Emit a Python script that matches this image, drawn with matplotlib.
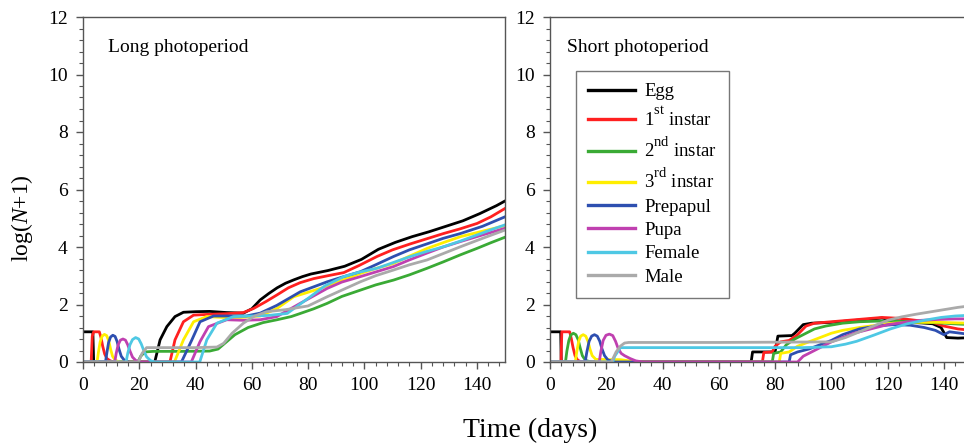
import numpy as np
import matplotlib
matplotlib.use("Agg")
import matplotlib.pyplot as plt
import matplotlib.ticker as ticker

plt.rcParams['font.family'] = ['Liberation Serif', 'DejaVu Serif']
plt.rcParams['mathtext.fontset'] = 'custom'
plt.rcParams['mathtext.rm'] = 'Liberation Serif'
plt.rcParams['mathtext.it'] = 'Liberation Serif:italic'

# bigger, higher superscripts (like the original legend)
try:
    import matplotlib._mathtext as _mt
    _mt.FontConstantsBase.sup1 = 1.2
    _mt.SHRINK_FACTOR = 0.78
except Exception:
    pass

# ---- data: (day, log(N+1)) per stage ----
labels = ['Egg', r'1$^{\mathrm{st}}$ instar', r'2$^{\mathrm{nd}}$ instar', r'3$^{\mathrm{rd}}$ instar',
          'Prepapul', 'Pupa', 'Female', 'Male']
colors = ['#000000', '#ff2020', '#3aaa35', '#ffee00', '#2e4fb0', '#c040b0', '#4ec8e4', '#aaaaaa']

# Long photoperiod
egg_long_t = [0, 3.5, 3.8, 25.5, 27.4, 29.8, 32.7, 35.7, 40, 45, 51, 57, 60, 63, 66, 69, 72, 75, 78, 81,
              87, 93, 99, 105, 111, 117, 123, 129, 135, 141, 147, 150]
egg_long_y = [1.05, 1.05, 0, 0, 0.77, 1.23, 1.58, 1.73, 1.75, 1.76, 1.72, 1.70, 1.85, 2.16, 2.38, 2.58,
              2.74, 2.86, 2.97, 3.06, 3.18, 3.33, 3.57, 3.92, 4.16, 4.36, 4.53, 4.72, 4.91, 5.16, 5.44, 5.6]
l1_long_t = [0, 2.9, 3.3, 3.8, 5.8, 6.4, 7.0, 7.7, 8.5, 9.7, 11, 30.9, 32.7, 35.7, 39.3, 45, 51, 57, 60.6,
             65, 68.9, 73, 77.2, 82, 87, 92.7, 98, 104.5, 110, 116.4, 122, 128.2, 134, 140.1, 145, 150]
l1_long_y = [0, 0, 0.9, 1.05, 1.05, 0.85, 0.55, 0.28, 0.12, 0.04, 0, 0, 0.77, 1.40, 1.63, 1.66, 1.68,
             1.72, 1.86, 2.1, 2.33, 2.58, 2.76, 2.9, 3.0, 3.11, 3.35, 3.67, 3.9, 4.11, 4.28, 4.47, 4.63,
             4.82, 5.05, 5.34]
l2_long_t = [0, 19.5, 20.5, 22, 25, 35, 45, 48, 51, 54, 58.7, 64, 69, 74, 77, 82, 86.8, 92, 98.6, 104,
             110.4, 116, 122.3, 128, 134.2, 140, 145, 150]
l2_long_y = [0, 0, 0.2, 0.35, 0.37, 0.37, 0.38, 0.45, 0.7, 0.95, 1.2, 1.37, 1.47, 1.58, 1.68, 1.85,
             2.04, 2.28, 2.5, 2.68, 2.85, 3.03, 3.26, 3.48, 3.73, 3.95, 4.15, 4.34]
l3_long_t = [0, 5, 5.5, 6.1, 6.8, 7.6, 8.4, 9.1, 9.8, 10.5, 11.5, 13, 32.5, 35.7, 39.3, 44, 50, 56, 63,
             68.9, 74.9, 84.4, 91, 98.6, 104, 110.4, 116, 122.3, 128, 134.2, 142, 150]
l3_long_y = [0, 0, 0.35, 0.7, 0.9, 0.96, 0.92, 0.75, 0.45, 0.2, 0.06, 0, 0, 0.77, 1.40, 1.58, 1.55,
             1.55, 1.6, 1.86, 2.27, 2.56, 2.8, 3.08, 3.25, 3.43, 3.68, 3.95, 4.15, 4.36, 4.55, 4.74]
pp_long_t = [0, 8, 8.5, 9.1, 9.8, 10.6, 11.4, 12.1, 12.8, 13.6, 14.7, 16.5, 35, 38.7, 41.6, 46.4, 52, 58,
             63, 68.9, 77.2, 86.8, 92, 98.6, 104, 110.4, 116, 122.3, 128, 134.2, 142, 150]
pp_long_y = [0, 0, 0.33, 0.68, 0.87, 0.93, 0.89, 0.72, 0.45, 0.2, 0.06, 0, 0, 0.77, 1.40, 1.6, 1.6,
             1.6, 1.7, 1.97, 2.44, 2.79, 2.95, 3.14, 3.38, 3.67, 3.9, 4.11, 4.3, 4.47, 4.72, 5.05]
pu_long_t = [0, 11.3, 11.8, 12.5, 13.3, 14.2, 15.1, 15.9, 16.7, 17.6, 18.8, 20.5, 38.5, 41.6, 44.6, 51.1,
             57, 63, 68.9, 77.2, 86.8, 92, 98.6, 104, 110.4, 116, 122.3, 128, 134.2, 142, 150]
pu_long_y = [0, 0, 0.3, 0.6, 0.76, 0.8, 0.76, 0.6, 0.38, 0.17, 0.05, 0, 0, 0.71, 1.23, 1.47, 1.45, 1.47,
             1.58, 2.04, 2.56, 2.78, 2.97, 3.13, 3.32, 3.55, 3.79, 4.0, 4.19, 4.42, 4.65]
fe_long_t = [0, 15.3, 15.9, 16.7, 17.6, 18.7, 19.8, 20.7, 21.6, 22.6, 24, 25.5, 41.5, 44, 47.6, 53.5, 60,
             66, 72.6, 80.8, 86, 92.7, 98, 104.5, 110, 116.4, 122, 128.2, 134, 140.1, 145, 150]
fe_long_y = [0, 0, 0.3, 0.6, 0.78, 0.85, 0.8, 0.63, 0.4, 0.18, 0.05, 0, 0, 0.77, 1.35, 1.58, 1.6, 1.62,
             1.69, 2.27, 2.65, 2.97, 3.12, 3.26, 3.45, 3.67, 3.84, 4.01, 4.2, 4.42, 4.6, 4.77]
ma_long_t = [0, 19.7, 21, 22.6, 30, 40, 47.6, 50, 53, 57, 61, 65.3, 72, 80, 86.8, 92, 98.6, 104, 110.4,
             116, 122.3, 128, 134.2, 142, 150]
ma_long_y = [0, 0, 0.3, 0.5, 0.5, 0.5, 0.52, 0.65, 1.0, 1.35, 1.6, 1.75, 1.82, 1.95, 2.27, 2.5, 2.79,
             3.0, 3.2, 3.38, 3.55, 3.77, 4.01, 4.3, 4.59]

# Short photoperiod
egg_short_t = [0, 3.8, 4.0, 71.5, 72, 80, 81, 86, 87, 90, 93, 100, 105, 110, 115, 118, 122, 127, 132,
               136, 139, 141, 145, 150]
egg_short_y = [1.05, 1.05, 0, 0, 0.35, 0.35, 0.9, 0.92, 1.0, 1.3, 1.35, 1.38, 1.42, 1.46, 1.5, 1.53,
               1.45, 1.38, 1.36, 1.33, 1.2, 0.85, 0.83, 0.85]
l1_short_t = [0, 3.9, 4.2, 7, 7.6, 8.2, 8.9, 9.8, 11, 75.5, 76, 79, 80, 82, 85, 88, 91, 94, 100, 106,
              112, 118, 124, 130, 136, 140, 145, 150]
l1_short_y = [0, 0, 1.05, 1.05, 0.8, 0.5, 0.22, 0.07, 0, 0, 0.33, 0.35, 0.55, 0.7, 0.75, 0.95, 1.25,
              1.35, 1.4, 1.45, 1.5, 1.55, 1.52, 1.45, 1.38, 1.25, 1.15, 1.1]
l2_short_t = [0, 5.5, 6.0, 6.7, 7.4, 8.3, 9.2, 10.0, 10.7, 11.5, 12.6, 14.5, 79, 79.5, 82, 84, 87, 90,
              94, 98, 104, 110, 116, 122, 128, 134, 140, 145, 150]
l2_short_y = [0, 0, 0.38, 0.75, 0.94, 1.0, 0.95, 0.78, 0.5, 0.22, 0.06, 0, 0, 0.3, 0.35, 0.6, 0.8, 0.95,
              1.15, 1.25, 1.35, 1.4, 1.42, 1.42, 1.4, 1.38, 1.35, 1.32, 1.3]
l3_short_t = [0, 9, 9.5, 10.2, 10.9, 11.8, 12.7, 13.5, 14.2, 15.0, 16.3, 25, 29, 31, 81.5, 82, 85, 88,
              92, 96, 100, 104, 110, 116, 122, 130, 138, 145, 150]
l3_short_y = [0, 0, 0.35, 0.72, 0.9, 0.95, 0.9, 0.72, 0.45, 0.22, 0.09, 0.08, 0.03, 0, 0, 0.3, 0.35,
              0.55, 0.7, 0.85, 1.0, 1.1, 1.2, 1.28, 1.35, 1.38, 1.38, 1.36, 1.35]
pp_short_t = [0, 12.5, 13.1, 13.9, 14.8, 15.8, 16.8, 17.7, 18.5, 19.4, 20.6, 23, 85, 85.5, 88, 92, 96,
              100, 104, 110, 116, 122, 128, 133, 137, 140, 142, 146, 150]
pp_short_y = [0, 0, 0.35, 0.72, 0.9, 0.95, 0.9, 0.72, 0.45, 0.22, 0.07, 0, 0, 0.25, 0.35, 0.45, 0.6,
              0.75, 0.95, 1.15, 1.25, 1.3, 1.28, 1.2, 1.1, 0.95, 1.05, 1.0, 0.95]
pu_short_t = [0, 17.5, 18.1, 18.9, 19.9, 21.1, 22.3, 23.3, 24.2, 25.3, 26.5, 28.5, 30.5, 33, 88, 90, 93,
              96, 100, 104, 108, 114, 120, 126, 132, 138, 144, 150]
pu_short_y = [0, 0, 0.38, 0.75, 0.93, 0.97, 0.92, 0.72, 0.48, 0.3, 0.22, 0.12, 0.04, 0, 0, 0.2, 0.35,
              0.5, 0.7, 0.85, 1.0, 1.15, 1.3, 1.38, 1.45, 1.48, 1.5, 1.5]
fe_short_t = [0, 22.3, 23, 25, 30, 60, 90, 100, 105, 109, 115, 121, 127, 133, 139, 144, 150]
fe_short_y = [0, 0, 0.2, 0.5, 0.5, 0.5, 0.5, 0.53, 0.62, 0.72, 0.93, 1.15, 1.33, 1.45, 1.55, 1.6, 1.63]
ma_short_t = [0, 21.8, 23.5, 25, 26.5, 28, 60, 100, 105, 110, 115, 120, 125, 130, 135, 140, 145, 150]
ma_short_y = [0, 0, 0.35, 0.55, 0.66, 0.68, 0.68, 0.7, 0.85, 1.05, 1.25, 1.45, 1.57, 1.66, 1.74, 1.82,
              1.9, 1.96]

long_series = [(egg_long_t, egg_long_y), (l1_long_t, l1_long_y), (l2_long_t, l2_long_y),
               (l3_long_t, l3_long_y), (pp_long_t, pp_long_y), (pu_long_t, pu_long_y),
               (fe_long_t, fe_long_y), (ma_long_t, ma_long_y)]
short_series = [(egg_short_t, egg_short_y), (l1_short_t, l1_short_y), (l2_short_t, l2_short_y),
                (l3_short_t, l3_short_y), (pp_short_t, pp_short_y), (pu_short_t, pu_short_y),
                (fe_short_t, fe_short_y), (ma_short_t, ma_short_y)]

spine_col = '#555555'


def style_axes(ax):
    ax.set_xlim(0, 150)
    ax.set_ylim(0, 12)
    ax.xaxis.set_major_locator(ticker.MultipleLocator(20))
    ax.xaxis.set_minor_locator(ticker.MultipleLocator(4))
    ax.yaxis.set_major_locator(ticker.MultipleLocator(2))
    ax.yaxis.set_minor_locator(ticker.MultipleLocator(0.4))
    ax.tick_params(which='major', direction='out', length=5, width=1, color=spine_col,
                   labelsize=14, pad=6)
    ax.tick_params(which='minor', direction='out', length=3, width=0.8, color=spine_col)
    for s in ax.spines.values():
        s.set_color(spine_col)
        s.set_linewidth(1.0)


fig = plt.figure(figsize=(9.64, 4.46), dpi=100)
ax1 = fig.add_axes([83 / 964, 84 / 446, 422 / 964, 345 / 446])
ax2 = fig.add_axes([550 / 964, 84 / 446, 422 / 964, 345 / 446])

for ax, series in [(ax1, long_series), (ax2, short_series)]:
    for (t, y), c, lab in zip(series, colors, labels):
        ax.plot(t, y, color=c, lw=2.0, label=lab, solid_joinstyle='round')
    style_axes(ax)

ax1.text(0.059, 0.913, 'Long photoperiod', transform=ax1.transAxes, fontsize=14, va='center')
ax2.text(0.04, 0.913, 'Short photoperiod', transform=ax2.transAxes, fontsize=14, va='center')

leg = ax2.legend(loc='upper left', bbox_to_anchor=(0.0616, 0.843), fontsize=13.5, frameon=True,
                 fancybox=False, edgecolor=spine_col, handlelength=2.5, handletextpad=0.5,
                 labelspacing=0.33, borderpad=0.65, borderaxespad=0)
leg.get_frame().set_linewidth(1.0)
for line in leg.get_lines():
    line.set_linewidth(2.4)

fig.text(22 / 964, 1 - 218 / 446, r'log($\mathit{N}$+1)', rotation=90, fontsize=17,
         ha='center', va='center')
fig.text(530 / 964, 1 - 430 / 446, 'Time (days)', fontsize=20, ha='center', va='center')

fig.savefig('out.png', dpi=100)
